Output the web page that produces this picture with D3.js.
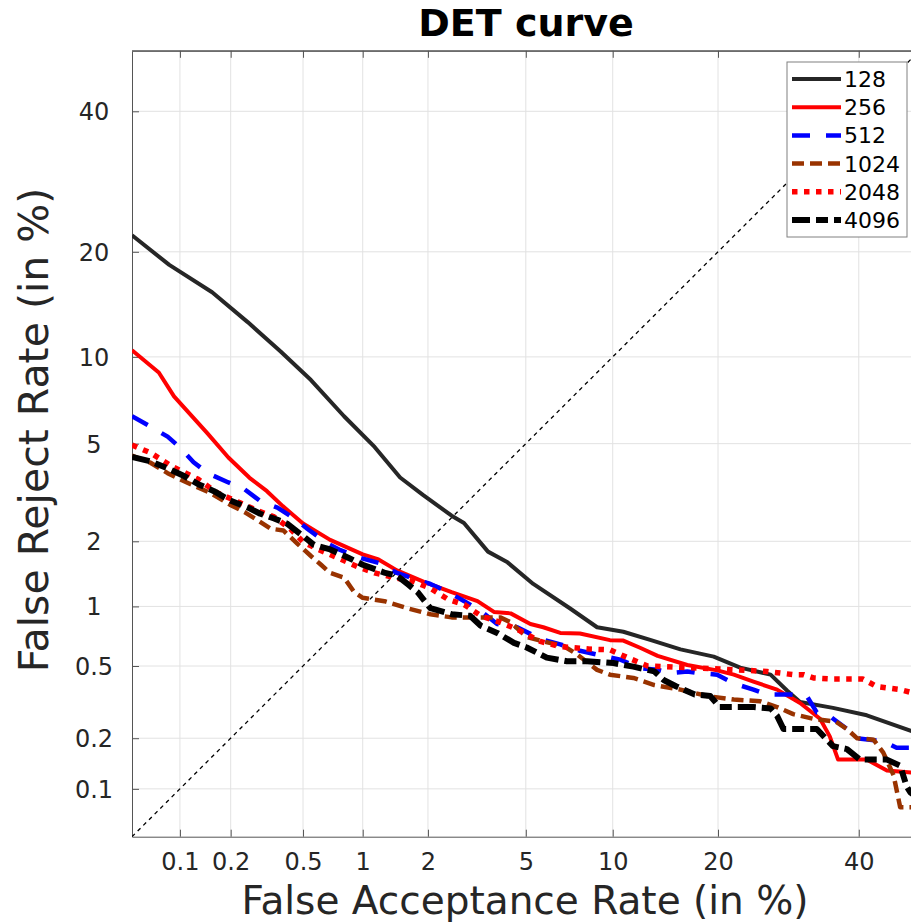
<!DOCTYPE html>
<html><head><meta charset="utf-8">
<script src="https://cdn.jsdelivr.net/npm/d3@7"></script>
<style>
html,body{margin:0;padding:0;background:#fff;}
svg{display:block;font-family:"DejaVu Sans",sans-serif;}
</style></head>
<body><svg id="chart" width="911" height="924"></svg>
<script>
// ---- data (percent) ----
const tickValues = [0.1, 0.2, 0.5, 1, 2, 5, 10, 20, 40];
const tickLabels = ["0.1", "0.2", "0.5", "1", "2", "5", "10", "20", "40"];
const seriesNames = ["128", "256", "512", "1024", "2048", "4096"];

const far128 = [0.05,0.086,0.156,0.25,0.38,0.55,0.81,1.14,1.5,1.9,2.53,2.85,3.57,4.26,5.33,7.2,8.9,10.8,13.1,15.9,19.5,22.7,26.7,29,30.9,35.9,41.3,49.5];
const frr128 = [22,18.5,15.6,12.8,10.4,8.4,6.3,4.86,3.7,3.15,2.58,2.4,1.8,1.61,1.28,0.98,0.79,0.75,0.68,0.61,0.56,0.49,0.45,0.37,0.32,0.297,0.27,0.215];

const far256 = [0.05,0.074,0.092,0.146,0.194,0.256,0.32,0.39,0.5,0.69,1.0,1.19,1.45,1.92,2.53,3.24,3.77,4.38,5.2,5.8,6.67,7.8,9.8,10.8,12.2,13.7,16.6,19.9,21.9,24.4,27.6,30.9,33.9,35.4,36.7,41.3,44.6,49.5];
const frr256 = [10.5,8.9,7.4,5.47,4.43,3.69,3.26,2.83,2.39,2.03,1.75,1.66,1.48,1.31,1.17,1.06,0.94,0.925,0.82,0.79,0.74,0.735,0.68,0.677,0.62,0.565,0.506,0.474,0.45,0.413,0.374,0.316,0.258,0.205,0.15,0.15,0.129,0.125];

const far512 = [0.05,0.063,0.084,0.1,0.121,0.147,0.19,0.24,0.294,0.365,0.456,0.526,0.666,0.765,0.97,1.19,1.45,1.68,2.05,2.45,2.86,3.34,3.88,4.64,5.66,6.67,7.8,9.8,10.57,12.2,13.67,14.9,16.6,17.7,19.9,21.9,24.4,26.2,29.4,31.9,33.4,34.9,38.1,39.7,44,46.2,49.5];
const frr512 = [6.3,5.86,5.31,4.84,4.25,3.85,3.56,3.32,2.97,2.79,2.49,2.27,1.96,1.84,1.69,1.6,1.44,1.37,1.28,1.17,1.06,0.95,0.82,0.79,0.69,0.647,0.6,0.554,0.54,0.487,0.478,0.459,0.468,0.459,0.45,0.404,0.374,0.352,0.352,0.345,0.28,0.275,0.226,0.2,0.192,0.176,0.176];

const far1024 = [0.05,0.066,0.084,0.1,0.123,0.152,0.198,0.24,0.284,0.336,0.393,0.465,0.55,0.62,0.69,0.81,0.91,1.0,1.27,1.62,2.05,2.53,3.02,3.66,3.99,4.38,5.04,5.81,6.85,7.6,8.9,9.8,11.6,13.4,15.9,18.8,21.9,25.3,27.6,29.9,32.9,36.4,38.1,39.7,42.4,44,45.7,46.8,49.5];
const frr1024 = [4.5,4.22,3.85,3.64,3.42,3.21,2.87,2.67,2.47,2.27,2.23,1.96,1.72,1.57,1.44,1.37,1.17,1.1,1.06,0.98,0.916,0.884,0.884,0.884,0.884,0.836,0.706,0.67,0.635,0.577,0.477,0.45,0.432,0.396,0.374,0.345,0.33,0.323,0.3,0.274,0.258,0.248,0.226,0.2,0.196,0.165,0.121,0.077,0.077];

const far2048 = [0.05,0.066,0.09,0.129,0.167,0.219,0.284,0.35,0.428,0.5,0.6,0.75,0.94,1.14,1.41,1.74,2.05,2.45,2.86,3.34,3.99,4.64,5.66,6.67,8.46,9.8,11.1,12.8,14.6,18.1,21.9,26.2,29.9,31.4,32.9,35.9,40.7,42.9,46.8,49.5];
const frr2048 = [4.94,4.61,4.08,3.64,3.21,2.95,2.71,2.55,2.27,1.99,1.84,1.69,1.54,1.44,1.37,1.31,1.22,1.08,1.02,0.9,0.836,0.772,0.67,0.63,0.612,0.607,0.554,0.5,0.496,0.487,0.478,0.468,0.45,0.45,0.432,0.426,0.426,0.389,0.374,0.355];

const far4096 = [0.05,0.066,0.084,0.106,0.129,0.16,0.198,0.251,0.294,0.35,0.41,0.5,0.57,0.69,0.85,1.0,1.28,1.45,1.62,1.8,2.05,2.53,3.02,3.34,3.88,4.51,5.04,5.97,7.03,8.24,10.05,11.6,13.4,14.3,15.5,17.4,19.1,20.2,24.4,26.7,27.6,28.5,33.4,35.9,38.1,40.2,44.6,46.8,47.9,48.5,49.5];
const frr4096 = [4.45,4.28,4.02,3.75,3.48,3.26,2.99,2.79,2.63,2.51,2.39,2.11,1.93,1.84,1.69,1.57,1.44,1.4,1.28,1.17,0.98,0.916,0.9,0.803,0.74,0.659,0.624,0.553,0.53,0.53,0.518,0.496,0.468,0.42,0.389,0.352,0.345,0.3,0.3,0.295,0.268,0.226,0.226,0.18,0.173,0.15,0.15,0.138,0.103,0.095,0.09];

const axisLimits = [0.05, 50];

// ---- probit (inverse normal CDF, Acklam) ----
function probit(p){
  const a=[-3.969683028665376e+01,2.209460984245205e+02,-2.759285104469687e+02,1.383577518672690e+02,-3.066479806614716e+01,2.506628277459239e+00];
  const b=[-5.447609879822406e+01,1.615858368580409e+02,-1.556989798598866e+02,6.680131188771972e+01,-1.328068155288572e+01];
  const c=[-7.784894002430293e-03,-3.223964580411365e-01,-2.400758277161838e+00,-2.549732539343734e+00,4.374664141464968e+00,2.938163982698783e+00];
  const d=[7.784695709041462e-03,3.224671290700398e-01,2.445134137142996e+00,3.754408661907416e+00];
  const pl=0.02425, ph=1-pl;
  if(p<pl){const q=Math.sqrt(-2*Math.log(p));return (((((c[0]*q+c[1])*q+c[2])*q+c[3])*q+c[4])*q+c[5])/((((d[0]*q+d[1])*q+d[2])*q+d[3])*q+1);}
  if(p<=ph){const q=p-0.5,r=q*q;return (((((a[0]*r+a[1])*r+a[2])*r+a[3])*r+a[4])*r+a[5])*q/(((((b[0]*r+b[1])*r+b[2])*r+b[3])*r+b[4])*r+1);}
  const q=Math.sqrt(-2*Math.log(1-p));return -(((((c[0]*q+c[1])*q+c[2])*q+c[3])*q+c[4])*q+c[5])/((((d[0]*q+d[1])*q+d[2])*q+d[3])*q+1);
}
const pz = v => probit(v/100);

// ---- layout ----
const L = 132, R = 919.4, T = 50.8, B = 836.7;
const svg = d3.select("#chart");
const x = d3.scaleLinear().domain(axisLimits.map(pz)).range([L, R]);
const y = d3.scaleLinear().domain(axisLimits.map(pz)).range([B, T]);

svg.append("defs").append("clipPath").attr("id","clip")
  .append("rect").attr("x",L).attr("y",T).attr("width",R-L).attr("height",B-T);

// grid
const grid = svg.append("g").attr("stroke","#e2e2e2").attr("stroke-width",1);
grid.selectAll("line.vx").data(tickValues).join("line")
  .attr("x1",d=>x(pz(d))).attr("x2",d=>x(pz(d))).attr("y1",T).attr("y2",B);
grid.selectAll("line.hy").data(tickValues).join("line")
  .attr("y1",d=>y(pz(d))).attr("y2",d=>y(pz(d))).attr("x1",L).attr("x2",R);

// axes
const axisColor = "#555";
const xAxis = svg.append("g").attr("transform",`translate(0,${B})`)
  .call(d3.axisBottom(x).tickValues(tickValues.map(pz)).tickFormat((d,i)=>tickLabels[i]).tickSize(-7).tickPadding(17).tickSizeOuter(0));
const yAxis = svg.append("g").attr("transform",`translate(${L},0)`)
  .call(d3.axisLeft(y).tickValues(tickValues.map(pz)).tickFormat((d,i)=>tickLabels[i]).tickSize(-7).tickPadding(10).tickSizeOuter(0));
const xTop = svg.append("g").attr("transform",`translate(0,${T})`)
  .call(d3.axisTop(x).tickValues(tickValues.map(pz)).tickFormat("").tickSize(-7).tickSizeOuter(0));
[xAxis,yAxis,xTop].forEach(g=>{
  g.select(".domain").attr("stroke",axisColor);
  g.selectAll(".tick line").attr("stroke",axisColor);
  g.selectAll("text").attr("fill","#262626").style("font-size","24px").style("font-family","DejaVu Sans");
});
xAxis.selectAll("text").attr("y",33.5).attr("dy",null);
yAxis.selectAll("text").attr("text-anchor","middle").attr("x",94-L).attr("dy",null).attr("y",8.5);

// diagonal
const lineGen = d3.line().x(d=>x(pz(d[0]))).y(d=>y(pz(d[1])));
const plot = svg.append("g").attr("clip-path","url(#clip)");
plot.append("path").datum(axisLimits.map(v=>[v,v])).attr("d",lineGen)
  .attr("fill","none").attr("stroke","#000").attr("stroke-width",1.3).attr("stroke-dasharray","4,4");

const series = [
  {name:seriesNames[0], far:far128, frr:frr128, color:"#262626", w:4, dash:null},
  {name:seriesNames[1], far:far256, frr:frr256, color:"#ff0000", w:4, dash:null},
  {name:seriesNames[2], far:far512, frr:frr512, color:"#0000ff", w:4.5, dash:"18,16"},
  {name:seriesNames[3], far:far1024, frr:frr1024, color:"#993300", w:4.5, dash:"12,6"},
  {name:seriesNames[4], far:far2048, frr:frr2048, color:"#ff0000", w:5.5, dash:"5.5,6.5"},
  {name:seriesNames[5], far:far4096, frr:frr4096, color:"#000000", w:6, dash:"18,6,12,6"}
];
series.forEach(s=>{
  const pts = s.far.map((f,i)=>[f,s.frr[i]]);
  plot.append("path").datum(pts).attr("d",lineGen)
    .attr("fill","none").attr("stroke",s.color).attr("stroke-width",s.w)
    .attr("stroke-linejoin","round")
    .attr("stroke-dasharray",s.dash);
});

// box outline
svg.append("line").attr("x1",L).attr("x2",R).attr("y1",T).attr("y2",T).attr("stroke",axisColor);

// legend
const lg = svg.append("g");
lg.append("rect").attr("x",787).attr("y",62).attr("width",120).attr("height",175)
  .attr("fill","#fff").attr("stroke","#808080").attr("stroke-width",1);
series.forEach((s,i)=>{
  const yy = 79 + i*28.2;
  lg.append("line").attr("x1",792).attr("x2",841).attr("y1",yy).attr("y2",yy)
    .attr("stroke",s.color).attr("stroke-width",s.w).attr("stroke-dasharray",s.dash);
  lg.append("text").attr("x",844).attr("y",yy+8).text(s.name)
    .style("font-size","22px").attr("fill","#000");
});

// titles
svg.append("text").attr("x",526).attr("y",36).attr("text-anchor","middle")
  .style("font-size","38px").style("font-weight","bold").attr("fill","#000").text("DET curve");
svg.append("text").attr("x",525).attr("y",914).attr("text-anchor","middle")
  .style("font-size","39px").attr("fill","#262626").text("False Acceptance Rate (in %)");
svg.append("text").attr("transform","translate(48,430) rotate(-90)").attr("text-anchor","middle")
  .style("font-size","41px").attr("fill","#262626").text("False Reject Rate (in %)");
</script>
</body></html>
